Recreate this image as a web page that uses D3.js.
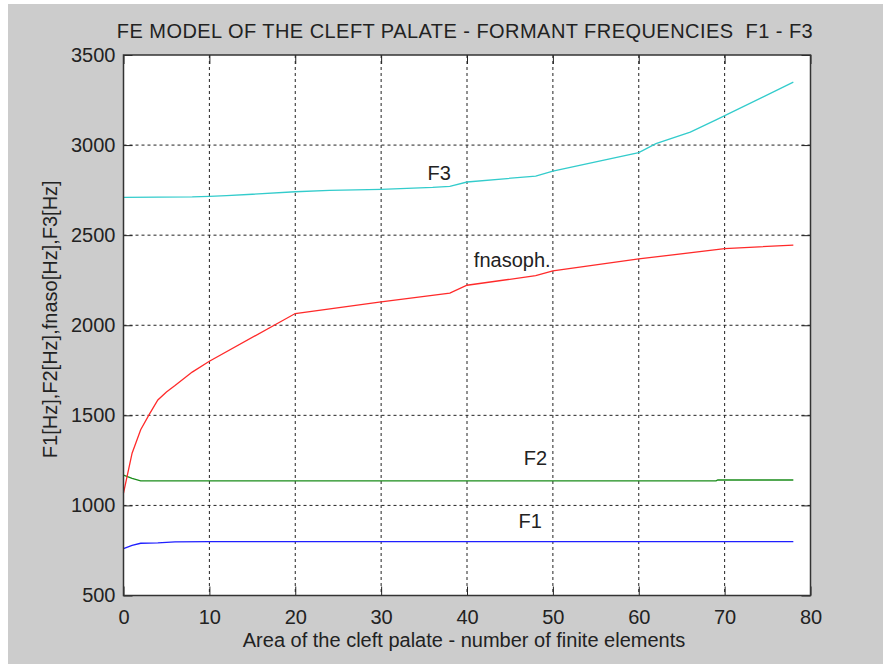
<!DOCTYPE html>
<html>
<head>
<meta charset="utf-8">
<script src="https://cdn.jsdelivr.net/npm/d3@7"></script>
<style>
  html, body { margin: 0; padding: 0; background: #ffffff; }
  svg text { font-family: "Liberation Sans", Arial, sans-serif; fill: #222; }
</style>
</head>
<body>
<div id="chart"></div>
<script>
const width = 883;
const height = 664;

// axis limits and ticks
const xTicks = [0, 10, 20, 30, 40, 50, 60, 70, 80];
const yTicks = [500, 1000, 1500, 2000, 2500, 3000, 3500];

// F1 (blue)
const f1X = [0, 1, 2, 4, 6, 10, 78];
const f1Y = [760, 778, 790, 792, 798, 799, 799];

// F2 (green)
const f2X = [0, 1, 2, 69, 69.2, 78];
const f2Y = [1168, 1150, 1136, 1136, 1141, 1141];

// fnasoph (red)
const fnX = [0, 1, 2, 3, 4, 5, 6, 8, 10, 20, 30, 38, 40, 48, 50, 60, 70, 78];
const fnY = [1068, 1290, 1420, 1505, 1585, 1630, 1665, 1740, 1800, 2065, 2130, 2178, 2222, 2275, 2302, 2368, 2425, 2445];

// F3 (cyan)
const f3X = [0, 8, 10, 12, 15, 20, 24, 30, 36, 38, 40, 48, 50, 60, 62, 66, 69, 78];
const f3Y = [2710, 2712, 2715, 2720, 2727, 2741, 2749, 2754, 2765, 2771, 2795, 2828, 2856, 2958, 3008, 3072, 3140, 3349];

// curve labels (data coordinates of text start / baseline)
const labelText = ["F3", "fnasoph.", "F2", "F1"];
const labelX = [35.4, 40.8, 46.6, 46.0];
const labelY = [2804, 2324, 1224, 874];

const series = [
    {x: f1X, y: f1Y, color: "#1f1fff"},
    {x: f2X, y: f2Y, color: "#1a8c1a"},
    {x: fnX, y: fnY, color: "#ff2a2a"},
    {x: f3X, y: f3Y, color: "#33cccc"}
];

const svg = d3.select("#chart").append("svg")
    .attr("width", width)
    .attr("height", height);

// gray figure background
svg.append("rect")
    .attr("x", 8).attr("y", 4)
    .attr("width", width - 8).attr("height", height - 4)
    .attr("fill", "#cccccc");

const x = d3.scaleLinear().domain([0, 80]).range([123.5, 810.5]);
const y = d3.scaleLinear().domain([500, 3500]).range([595.5, 55]);

// white plot area
svg.append("rect")
    .attr("x", x(0)).attr("y", y(3500))
    .attr("width", x(80) - x(0)).attr("height", y(500) - y(3500))
    .attr("fill", "#ffffff");

// dashed grid
svg.append("g").selectAll("line")
    .data(xTicks.slice(1, -1)).enter().append("line")
    .attr("x1", d => x(d)).attr("x2", d => x(d))
    .attr("y1", y(3500)).attr("y2", y(500))
    .attr("stroke", "#222").attr("stroke-width", 1)
    .attr("stroke-dasharray", "3,3");

svg.append("g").selectAll("line")
    .data(yTicks.slice(1, -1)).enter().append("line")
    .attr("x1", x(0)).attr("x2", x(80))
    .attr("y1", d => y(d)).attr("y2", d => y(d))
    .attr("stroke", "#222").attr("stroke-width", 1)
    .attr("stroke-dasharray", "3,3");

// lines
const line = d3.line()
    .x(d => x(d[0]))
    .y(d => y(d[1]));

svg.append("g").selectAll("path")
    .data(series).enter().append("path")
    .attr("d", s => line(s.x.map((v, i) => [v, s.y[i]])))
    .attr("fill", "none")
    .attr("stroke", s => s.color)
    .attr("stroke-width", 1.3);

// axes with inward ticks
const fontSize = "20px";

const xAxis = d3.axisBottom(x).tickValues(xTicks).tickSize(-9).tickPadding(14).tickFormat(d3.format("d"));
const yAxis = d3.axisLeft(y).tickValues(yTicks).tickSize(-9).tickPadding(8).tickFormat(d3.format("d"));

const gx = svg.append("g")
    .attr("transform", `translate(0, ${y(500)})`)
    .call(xAxis);
const gy = svg.append("g")
    .attr("transform", `translate(${x(0)}, 0)`)
    .call(yAxis);

svg.append("g")
    .attr("transform", `translate(0, ${y(3500)})`)
    .call(d3.axisTop(x).tickValues(xTicks).tickSize(-9).tickFormat(""));
svg.append("g")
    .attr("transform", `translate(${x(80)}, 0)`)
    .call(d3.axisRight(y).tickValues(yTicks).tickSize(-9).tickFormat(""));

svg.selectAll(".domain").remove();
svg.selectAll(".tick line").attr("stroke", "#222");
[gx, gy].forEach(g => g.selectAll("text")
    .style("font-size", fontSize)
    .style("font-family", "'Liberation Sans', Arial, sans-serif")
    .attr("fill", "#222"));

// frame
svg.append("rect")
    .attr("x", x(0)).attr("y", y(3500))
    .attr("width", x(80) - x(0)).attr("height", y(500) - y(3500))
    .attr("fill", "none")
    .attr("stroke", "#333").attr("stroke-width", 1.5);

// curve labels
svg.append("g").selectAll("text")
    .data(labelText).enter().append("text")
    .attr("x", (d, i) => x(labelX[i]))
    .attr("y", (d, i) => y(labelY[i]))
    .style("font-size", fontSize)
    .text(d => d);

// title and axis labels
svg.append("text")
    .attr("x", (x(0) + x(80)) / 2 - 2).attr("y", 38)
    .attr("text-anchor", "middle")
    .style("font-size", fontSize)
    .style("letter-spacing", "0.45px")
    .style("white-space", "pre")
    .text("FE MODEL OF THE CLEFT PALATE - FORMANT FREQUENCIES  F1 - F3");

svg.append("text")
    .attr("x", (x(0) + x(80)) / 2 - 3).attr("y", 647)
    .attr("text-anchor", "middle")
    .style("font-size", fontSize)
    .text("Area of the cleft palate - number of finite elements");

svg.append("text")
    .attr("transform", `translate(57, ${(y(500) + y(3500)) / 2 - 6}) rotate(-90)`)
    .attr("text-anchor", "middle")
    .style("font-size", fontSize)
    .text("F1[Hz],F2[Hz],fnaso[Hz],F3[Hz]");
</script>
</body>
</html>
